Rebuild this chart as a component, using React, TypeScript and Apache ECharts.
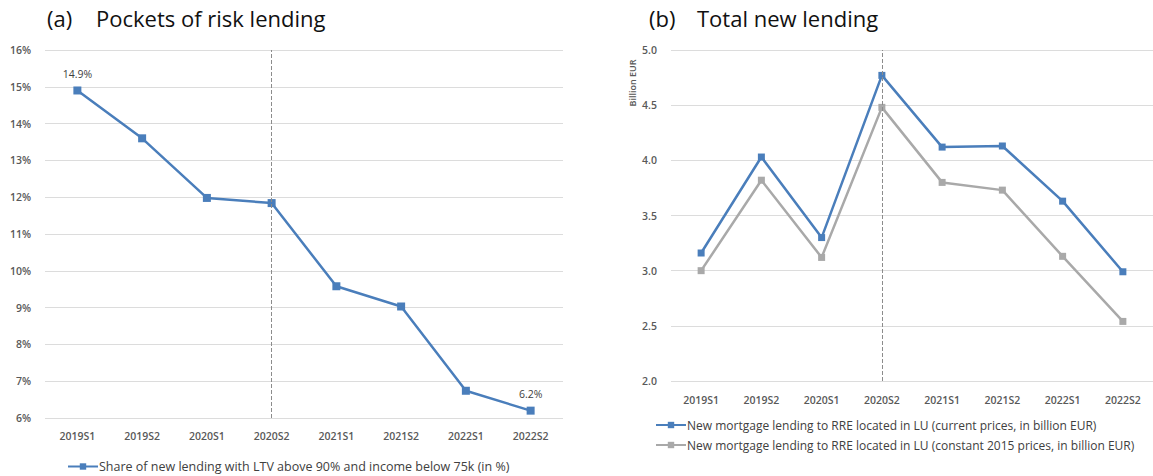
import React, { useEffect, useRef } from "react";
import * as echarts from "echarts";

// Half-year periods shared by both panels
const periods = ["2019S1", "2019S2", "2020S1", "2020S2", "2021S1", "2021S2", "2022S1", "2022S2"];

// (a) share of new lending with LTV above 90% and income below 75k, in %
const riskShare = [14.9, 13.6, 11.98, 11.84, 9.58, 9.03, 6.74, 6.2];

// (b) new mortgage lending, billion EUR
const lendingCurrent = [3.16, 4.03, 3.3, 4.77, 4.12, 4.13, 3.63, 2.99];
const lendingConstant = [3.0, 3.82, 3.12, 4.48, 3.8, 3.73, 3.13, 2.54];

const riskLabel = "Share of new lending with LTV above 90% and income below 75k (in %)";
const currentLabel = "New mortgage lending to RRE located in LU (current prices, in billion EUR)";
const constantLabel = "New mortgage lending to RRE located in LU (constant 2015 prices, in billion EUR)";

const BLUE = "#4a7ebb";
const GREY = "#a9a9a9";
const FONT = "'Open Sans', 'Noto Sans', sans-serif";
const TITLE = `22px ${FONT}`;

export default function App() {
  const ref = useRef<HTMLDivElement>(null);

  useEffect(() => {
    if (!ref.current) return;
    const chart = echarts.init(ref.current, undefined, { renderer: "svg" });

    const tickText = { color: "#595959", fontSize: 10.5, fontFamily: FONT, fontWeight: 600 as const };
    const dashed = {
      symbol: ["none", "none"],
      silent: true,
      label: { show: false },
      lineStyle: { type: "dashed" as const, color: "#8c8c8c", width: 1 },
      data: [{ xAxis: "2020S2" }],
    };
    const labeledPoints = new Set([0, periods.length - 1]);

    chart.setOption({
      animation: false,
      textStyle: { fontFamily: FONT },
      graphic: [
        { type: "text", left: 47, top: 7, style: { text: "(a)", font: TITLE, fill: "#111" } },
        { type: "text", left: 96, top: 7, style: { text: "Pockets of risk lending", font: TITLE, fill: "#111" } },
        { type: "text", left: 649, top: 7, style: { text: "(b)", font: TITLE, fill: "#111" } },
        { type: "text", left: 697, top: 7, style: { text: "Total new lending", font: TITLE, fill: "#111" } },
        {
          type: "text",
          x: 632,
          y: 83,
          rotation: Math.PI / 2,
          style: {
            text: "Billion EUR",
            font: `600 9px ${FONT}`,
            fill: "#595959",
            align: "center",
            verticalAlign: "middle",
          },
        },
      ],
      grid: [
        { left: 45, top: 50, width: 518, height: 368 },
        { left: 671, top: 50, width: 482, height: 331 },
      ],
      xAxis: [
        {
          type: "category",
          gridIndex: 0,
          data: periods,
          axisLine: { show: false },
          axisTick: { show: false },
          axisLabel: { ...tickText, margin: 12 },
        },
        {
          type: "category",
          gridIndex: 1,
          data: periods,
          axisLine: { show: false },
          axisTick: { show: false },
          axisLabel: { ...tickText, margin: 13 },
        },
      ],
      yAxis: [
        {
          type: "value",
          gridIndex: 0,
          min: 6,
          max: 16,
          interval: 1,
          axisLabel: { ...tickText, formatter: "{value}%", margin: 14 },
          splitLine: { lineStyle: { color: "#dcdcdc" } },
        },
        {
          type: "value",
          gridIndex: 1,
          min: 2,
          max: 5,
          interval: 0.5,
          axisLabel: { ...tickText, formatter: (v: number) => v.toFixed(1), margin: 14 },
          splitLine: { lineStyle: { color: "#dcdcdc" } },
        },
      ],
      legend: [
        {
          data: [riskLabel],
          left: 62,
          top: 455,
          itemWidth: 30,
          itemHeight: 8,
          textStyle: { color: "#404040", fontSize: 12.5, fontFamily: FONT, padding: [0, 0, 0, -4] },
        },
        {
          data: [currentLabel, constantLabel],
          orient: "vertical",
          left: 650,
          top: 414,
          itemWidth: 30,
          itemHeight: 8,
          itemGap: 8,
          textStyle: { color: "#404040", fontSize: 12, fontFamily: FONT, padding: [0, 0, 0, -4] },
        },
      ],
      series: [
        {
          name: riskLabel,
          type: "line",
          xAxisIndex: 0,
          yAxisIndex: 0,
          data: riskShare,
          symbol: "rect",
          symbolSize: 8,
          lineStyle: { color: BLUE, width: 2.5 },
          itemStyle: { color: BLUE },
          label: {
            show: true,
            position: "top",
            distance: 7,
            color: "#404040",
            fontSize: 10.5,
            fontFamily: FONT,
            formatter: (p: any) => (labeledPoints.has(p.dataIndex) ? `${p.value.toFixed(1)}%` : ""),
          },
          markLine: dashed,
        },
        {
          name: currentLabel,
          type: "line",
          xAxisIndex: 1,
          yAxisIndex: 1,
          data: lendingCurrent,
          symbol: "rect",
          symbolSize: 7,
          z: 3,
          lineStyle: { color: BLUE, width: 2.5 },
          itemStyle: { color: BLUE },
          markLine: dashed,
        },
        {
          name: constantLabel,
          type: "line",
          xAxisIndex: 1,
          yAxisIndex: 1,
          data: lendingConstant,
          symbol: "rect",
          symbolSize: 7,
          z: 2,
          lineStyle: { color: GREY, width: 2.5 },
          itemStyle: { color: GREY },
        },
      ],
    });

    return () => chart.dispose();
  }, []);

  return <div ref={ref} style={{ width: 1153, height: 476, position: "absolute", left: 0, top: 0, background: "#fff" }} />;
}
